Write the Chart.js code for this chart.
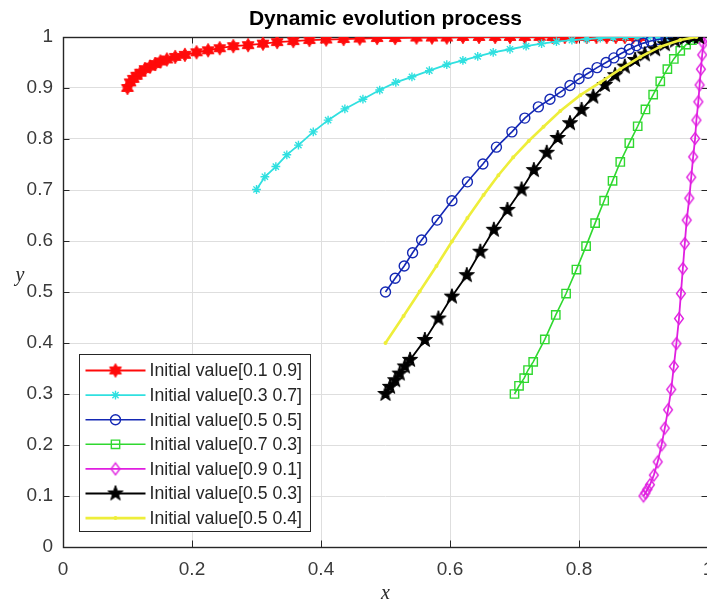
<!DOCTYPE html>
<html>
<head>
<meta charset="utf-8">
<script src="https://cdn.jsdelivr.net/npm/chart.js@4.4.1/dist/chart.umd.min.js"></script>
<style>
  html, body { margin: 0; padding: 0; background: #fff; }
  #wrap { position: relative; width: 707px; height: 603px; overflow: hidden; }
  #evo { display: block; }
</style>
</head>
<body>
<div id="wrap"><canvas id="evo" width="760" height="603"></canvas></div>
<script>
const xTicks = [0, 0.2, 0.4, 0.6, 0.8, 1];
const xTickLabels = ["0", "0.2", "0.4", "0.6", "0.8", "1"];
const yTicks = [0, 0.1, 0.2, 0.3, 0.4, 0.5, 0.6, 0.7, 0.8, 0.9, 1];
const yTickLabels = ["0", "0.1", "0.2", "0.3", "0.4", "0.5", "0.6", "0.7", "0.8", "0.9", "1"];

const seriesLabels = [
  "Initial value[0.1 0.9]",
  "Initial value[0.3 0.7]",
  "Initial value[0.5 0.5]",
  "Initial value[0.7 0.3]",
  "Initial value[0.9 0.1]",
  "Initial value[0.5 0.3]",
  "Initial value[0.5 0.4]",
];

// [0.1 0.9] red
const redX = [
  0.1, 0.104, 0.109, 0.114, 0.12, 0.127, 0.135, 0.143, 0.151, 0.161, 0.174,
  0.189, 0.207, 0.225, 0.243, 0.264, 0.287, 0.31, 0.332, 0.357, 0.382, 0.408,
  0.435, 0.46, 0.487, 0.515, 0.548, 0.572, 0.595, 0.62, 0.645, 0.67, 0.693,
  0.716, 0.739, 0.759, 0.778, 0.796, 0.812, 0.827, 0.843, 0.857, 0.871, 0.884,
  0.895,
];
const redY = [
  0.9, 0.911, 0.918, 0.924, 0.93, 0.937, 0.942, 0.947, 0.952, 0.956, 0.961,
  0.965, 0.97, 0.974, 0.978, 0.982, 0.984, 0.987, 0.99, 0.992, 0.994, 0.995,
  0.996, 0.997, 0.998, 0.998, 0.999, 0.999, 0.999, 1, 1, 1, 1,
  1, 1, 1, 1, 1, 1, 1, 1, 1, 1, 1,
  1,
];

// [0.3 0.7] cyan
const cyanX = [
  0.3, 0.313, 0.33, 0.347, 0.365, 0.388, 0.411, 0.437, 0.465, 0.491, 0.516,
  0.541, 0.568, 0.595, 0.62, 0.643, 0.667, 0.693, 0.718, 0.742, 0.765, 0.789,
  0.812, 0.833, 0.853, 0.872, 0.89, 0.907, 0.923, 0.938, 0.952, 0.965,
];
const cyanY = [
  0.701, 0.726, 0.746, 0.769, 0.788, 0.814, 0.837, 0.859, 0.878, 0.896, 0.911,
  0.922, 0.934, 0.946, 0.954, 0.962, 0.97, 0.976, 0.982, 0.987, 0.991, 0.994,
  0.996, 0.998, 0.999, 1, 1, 1, 1, 1, 1, 1,
];

// [0.5 0.5] blue
const blueX = [
  0.5, 0.515, 0.529, 0.542, 0.556, 0.58, 0.603, 0.627, 0.651, 0.672, 0.696,
  0.716, 0.737, 0.755, 0.771, 0.786, 0.8, 0.814, 0.828, 0.842, 0.854, 0.866,
  0.878, 0.889, 0.9, 0.911, 0.923, 0.935, 0.947, 0.959, 0.97, 0.98,
];
const blueY = [
  0.5, 0.527, 0.551, 0.577, 0.602, 0.641, 0.679, 0.716, 0.751, 0.784, 0.814,
  0.841, 0.863, 0.878, 0.892, 0.905, 0.918, 0.929, 0.94, 0.95, 0.959, 0.968,
  0.976, 0.983, 0.988, 0.992, 0.995, 0.997, 0.998, 0.999, 1, 1,
];

// [0.7 0.3] green
const greenX = [
  0.7, 0.707, 0.715, 0.721, 0.729, 0.747, 0.764, 0.78, 0.796, 0.811, 0.825,
  0.839, 0.852, 0.864, 0.878, 0.891, 0.903, 0.915, 0.926, 0.937, 0.947, 0.957,
  0.966, 0.975, 0.983,
];
const greenY = [
  0.3, 0.316, 0.331, 0.347, 0.363, 0.407, 0.455, 0.497, 0.544, 0.59, 0.635,
  0.679, 0.718, 0.755, 0.792, 0.825, 0.858, 0.887, 0.913, 0.937, 0.957, 0.973,
  0.985, 0.994, 0.999,
];

// [0.9 0.1] magenta
const magentaX = [
  0.9, 0.903, 0.906, 0.91, 0.916, 0.922, 0.928, 0.933, 0.938, 0.943, 0.947,
  0.951, 0.955, 0.958, 0.961, 0.964, 0.967, 0.971, 0.974, 0.977, 0.98, 0.982,
  0.985, 0.987, 0.989, 0.991, 0.993, 0.995,
];
const magentaY = [
  0.1, 0.106, 0.113, 0.122, 0.141, 0.167, 0.2, 0.233, 0.269, 0.309, 0.354,
  0.399, 0.448, 0.497, 0.546, 0.595, 0.641, 0.684, 0.725, 0.765, 0.801, 0.837,
  0.873, 0.906, 0.937, 0.965, 0.988, 0.998,
];

// [0.5 0.3] black
const blackX = [
  0.5, 0.507, 0.515, 0.522, 0.53, 0.538, 0.561, 0.582, 0.603, 0.626, 0.647,
  0.668, 0.689, 0.711, 0.73, 0.75, 0.767, 0.786, 0.804, 0.822, 0.84, 0.856,
  0.871, 0.887, 0.902, 0.918, 0.933, 0.949, 0.964, 0.977, 0.986,
];
const blackY = [
  0.3, 0.314, 0.327, 0.34, 0.354, 0.367, 0.406, 0.448, 0.491, 0.533, 0.579,
  0.622, 0.661, 0.701, 0.739, 0.773, 0.802, 0.831, 0.857, 0.883, 0.906, 0.925,
  0.942, 0.955, 0.966, 0.976, 0.986, 0.993, 0.998, 1, 1,
];

// [0.5 0.4] yellow
const yellowX = [
  0.5, 0.528, 0.553, 0.579, 0.603, 0.627, 0.652, 0.675, 0.698, 0.722, 0.745,
  0.771, 0.802, 0.833, 0.864, 0.895, 0.926, 0.957, 0.982,
];
const yellowY = [
  0.4, 0.453, 0.501, 0.551, 0.599, 0.645, 0.69, 0.729, 0.764, 0.796, 0.824,
  0.855, 0.886, 0.911, 0.937, 0.961, 0.981, 0.994, 1,
];

// ── marker shapes ─────────────────────────────────────────
function makeStar(n, ro, ri, color) {
  const s = Math.ceil(ro * 2 + 2);
  const c = document.createElement("canvas");
  c.width = s;
  c.height = s;
  const g = c.getContext("2d");
  g.translate(s / 2, s / 2);
  g.beginPath();
  for (let k = 0; k < n * 2; k++) {
    const r = k % 2 ? ri : ro;
    const a = -Math.PI / 2 + (k * Math.PI) / n;
    g.lineTo(r * Math.cos(a), r * Math.sin(a));
  }
  g.closePath();
  g.fillStyle = color;
  g.fill();
  g.lineWidth = 1;
  g.strokeStyle = color;
  g.stroke();
  return c;
}

function makeDiamond(hw, hh, color) {
  const c = document.createElement("canvas");
  c.width = Math.ceil(hw * 2 + 3);
  c.height = Math.ceil(hh * 2 + 3);
  const g = c.getContext("2d");
  g.translate(c.width / 2, c.height / 2);
  g.beginPath();
  g.moveTo(0, -hh);
  g.lineTo(hw, 0);
  g.lineTo(0, hh);
  g.lineTo(-hw, 0);
  g.closePath();
  g.lineWidth = 1.4;
  g.strokeStyle = color;
  g.stroke();
  return c;
}

const colors = ["#ff0a0a", "#30e0e0", "#1428b4", "#30d830", "#e01ee0", "#000000", "#eeee3a"];
const lineWidths = [1.8, 1.8, 1.6, 1.6, 1.8, 1.8, 2.6];

const styles = [
  { pointStyle: makeStar(6, 6.8, 3.9, colors[0]), radius: 6, fill: colors[0] },
  { pointStyle: "star", radius: 4.4, fill: "rgba(0,0,0,0)" },
  { pointStyle: "circle", radius: 5, fill: "rgba(0,0,0,0)" },
  { pointStyle: "rect", radius: 5.9, fill: "rgba(0,0,0,0)" },
  { pointStyle: makeDiamond(4.4, 5.8, colors[4]), radius: 6, fill: "rgba(0,0,0,0)" },
  { pointStyle: makeStar(5, 8, 3.2, colors[5]), radius: 7, fill: colors[5] },
  { pointStyle: "circle", radius: 1.3, fill: colors[6] },
];

const seriesX = [redX, cyanX, blueX, greenX, magentaX, blackX, yellowX];
const seriesY = [redY, cyanY, blueY, greenY, magentaY, blackY, yellowY];

const datasets = seriesLabels.map((label, i) => ({
  label,
  data: seriesX[i].map((x, k) => ({ x, y: seriesY[i][k] })),
  showLine: true,
  borderColor: colors[i],
  borderWidth: lineWidths[i],
  backgroundColor: styles[i].fill,
  pointStyle: styles[i].pointStyle,
  pointRadius: styles[i].radius,
  pointHoverRadius: styles[i].radius,
  pointBorderColor: colors[i],
  pointBackgroundColor: styles[i].fill,
  pointBorderWidth: 1.4,
  tension: 0,
  order: seriesLabels.length - i,
}));

// ── axes decoration, title and legend ─────────────────────
const AXIS_COLOR = "#262626";
const TICK_LEN = 6.5;

const matlabAxes = {
  id: "matlabAxes",
  beforeDatasetsDraw(chart) {
    const { ctx, chartArea: a, scales } = chart;
    ctx.save();
    ctx.strokeStyle = AXIS_COLOR;
    ctx.lineWidth = 1;
    ctx.beginPath();
    xTicks.forEach((v) => {
      const px = Math.round(scales.x.getPixelForValue(v)) + 0.5;
      ctx.moveTo(px, a.bottom);
      ctx.lineTo(px, a.bottom - TICK_LEN);
      ctx.moveTo(px, a.top);
      ctx.lineTo(px, a.top + TICK_LEN);
    });
    yTicks.forEach((v) => {
      const py = Math.round(scales.y.getPixelForValue(v)) + 0.5;
      ctx.moveTo(a.left, py);
      ctx.lineTo(a.left + TICK_LEN, py);
      ctx.moveTo(a.right, py);
      ctx.lineTo(a.right - TICK_LEN, py);
    });
    ctx.stroke();
    ctx.lineWidth = 1.4;
    ctx.strokeRect(Math.round(a.left) + 0.5, Math.round(a.top) + 0.5,
      Math.round(a.right - a.left), Math.round(a.bottom - a.top));
    ctx.restore();
  },
  afterDraw(chart) {
    const { ctx, chartArea: a } = chart;
    ctx.save();

    // title
    ctx.fillStyle = "#000";
    ctx.font = 'bold 21px "Liberation Sans", Arial, sans-serif';
    ctx.textAlign = "center";
    ctx.textBaseline = "alphabetic";
    ctx.fillText("Dynamic evolution process", (a.left + a.right) / 2, 25);

    // axis labels
    ctx.fillStyle = AXIS_COLOR;
    ctx.font = 'italic 20px "Liberation Serif", "DejaVu Serif", serif';
    ctx.fillText("x", (a.left + a.right) / 2, 599);
    ctx.fillText("y", 20, 281);

    // legend
    const bx = a.left + 16.5;
    const by = a.bottom - 192.5;
    const bw = 231;
    const bh = 177;
    ctx.fillStyle = "#fff";
    ctx.fillRect(bx, by, bw, bh);
    ctx.strokeStyle = AXIS_COLOR;
    ctx.lineWidth = 1;
    ctx.strokeRect(bx, by, bw, bh);

    ctx.font = '17.7px "Liberation Sans", Arial, sans-serif';
    ctx.textAlign = "left";
    ctx.textBaseline = "middle";
    seriesLabels.forEach((label, i) => {
      const y = by + 16 + i * 24.6;
      ctx.strokeStyle = colors[i];
      ctx.lineWidth = lineWidths[i];
      ctx.beginPath();
      ctx.moveTo(bx + 6, y);
      ctx.lineTo(bx + 66, y);
      ctx.stroke();

      ctx.fillStyle = styles[i].fill;
      ctx.lineWidth = 1.4;
      Chart.helpers.drawPoint(ctx, {
        pointStyle: styles[i].pointStyle,
        radius: styles[i].radius,
        rotation: 0,
        borderWidth: 1.4,
      }, bx + 36, y);

      ctx.fillStyle = AXIS_COLOR;
      ctx.fillText(label, bx + 70, y + 1);
    });
    ctx.restore();
  },
};

const canvas = document.getElementById("evo");

new Chart(canvas, {
  type: "scatter",
  data: { datasets },
  plugins: [matlabAxes],
  options: {
    responsive: false,
    animation: false,
    devicePixelRatio: 1,
    layout: { padding: { left: 0, top: 37, right: 52, bottom: 0 } },
    plugins: {
      legend: { display: false },
      tooltip: { enabled: false },
      title: { display: false },
    },
    scales: {
      x: {
        type: "linear",
        min: 0,
        max: 1,
        afterBuildTicks: (s) => { s.ticks = xTicks.map((v) => ({ value: v })); },
        afterFit: (s) => { s.height = 56; },
        grid: { color: "#dedede", drawTicks: false, lineWidth: 1 },
        border: { display: false },
        ticks: {
          padding: 11,
          color: "#3a3a3a",
          font: { size: 19, family: '"Liberation Sans", Arial, sans-serif' },
          maxRotation: 0,
          callback: (v, i) => xTickLabels[i],
        },
      },
      y: {
        type: "linear",
        min: 0,
        max: 1,
        afterBuildTicks: (s) => { s.ticks = yTicks.map((v) => ({ value: v })); },
        afterFit: (s) => { s.width = 63; },
        grid: { color: "#dedede", drawTicks: false, lineWidth: 1 },
        border: { display: false },
        ticks: {
          padding: 10,
          color: "#3a3a3a",
          font: { size: 19, family: '"Liberation Sans", Arial, sans-serif' },
          callback: (v, i) => yTickLabels[i],
        },
      },
    },
  },
});
</script>
</body>
</html>
